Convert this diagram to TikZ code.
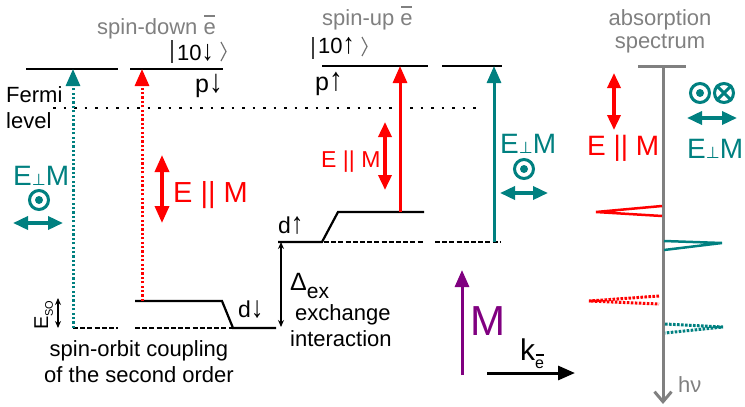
\documentclass[tikz,border=0pt]{standalone}
\usepackage{fontspec}
\setmainfont{Liberation Sans}
\newfontfamily\symf{DejaVu Sans}
\usetikzlibrary{arrows.meta}
\definecolor{tealc}{RGB}{0,128,128}
\definecolor{purp}{RGB}{128,0,128}
\definecolor{gry}{RGB}{128,128,128}
\newcommand\myfs[1]{\fontsize{#1}{#1}\selectfont}
\newcommand\ebar{\rlap{\hspace{0.03em}\raisebox{0.78em}{\rule{0.5em}{0.07em}}}e}
\newcommand\perpm{{\myfs{16}\symf ⊥}}
\newcommand\dnarr{\scalebox{1.1}[1.3]{↓}}
\newcommand\uparr{\scalebox{1.1}[1.3]{↑}}
\begin{document}
\begin{tikzpicture}[x=1pt,y=-1pt,
  lvl/.style={line width=2.2pt},
  dlvl/.style={line width=2.2pt,dash pattern=on 5pt off 2.2pt},
  fermi/.style={line width=2.8pt,dash pattern=on 2.8pt off 7.7pt},
  dotl/.style={line width=3pt,dash pattern=on 2.2pt off 2.2pt},
  uptip/.style={-{Triangle[length=17pt,width=14pt]}},
  both/.style={{Triangle[length=17pt,width=14pt]}-{Triangle[length=17pt,width=14pt]}},
  bothsm/.style={{Triangle[length=15pt,width=13pt]}-{Triangle[length=15pt,width=13pt]}},
  thin2/.style={line width=1.5pt,{Stealth[length=7pt,width=6pt]}-{Stealth[length=7pt,width=6pt]}},
  t/.style={inner sep=0pt,font=\myfs{22}},
  ketl/.style={line width=1.6pt,black!75},
  odot/.style={circle,draw=tealc,line width=3pt,minimum size=19pt,inner sep=0pt},
]
\useasboundingbox (0,0) rectangle (745,407);

% ---- energy levels
\draw[lvl] (26,69) -- (118,69);
\draw[lvl] (130,69) -- (223,69);
\draw[lvl] (322,66) -- (428,66);
\draw[lvl] (442,66) -- (502,66);
\draw[fermi] (53,108) -- (478,108);
\draw[dlvl] (73,328) -- (118,328);
\draw[dlvl] (135,328) -- (233,328);
\draw[lvl] (135,301) -- (222,301) -- (233,328) -- (276,328);
\draw[lvl] (278,242) -- (322,242) -- (338,212) -- (424,212);
\draw[dlvl] (324,242) -- (424,242);
\draw[dlvl] (435,242) -- (501,242);

% ---- coordinates for transitions
\coordinate (a1) at (73,328); \coordinate (a1e) at (73,69);
\coordinate (a2) at (142,301); \coordinate (a2e) at (142,69);
\coordinate (a3) at (400,212); \coordinate (a3e) at (400,66);
\coordinate (a4) at (494,242); \coordinate (a4e) at (494,66);
\draw[tealc,dotl,uptip] (a1) -- (a1e);
\draw[red,dotl,uptip] (a2) -- (a2e);
\draw[red,line width=3pt,uptip] (a3) -- (a3e);
\draw[tealc,line width=3pt,uptip] (a4) -- (a4e);

% ---- polarisation arrows
\coordinate (p1a) at (162,155); \coordinate (p1b) at (162,223);
\coordinate (p2a) at (385,122); \coordinate (p2b) at (385,190);
\coordinate (p3a) at (614,73);  \coordinate (p3b) at (614,130);
\draw[red,line width=3.5pt,both] (p1a) -- (p1b);
\draw[red,line width=3.5pt,bothsm] (p2a) -- (p2b);
\draw[red,line width=3.5pt,bothsm] (p3a) -- (p3b);
\coordinate (h1a) at (13,223); \coordinate (h1b) at (63,223);
\coordinate (h2a) at (500,193); \coordinate (h2b) at (548,193);
\coordinate (h3a) at (687,118); \coordinate (h3b) at (737,118);
\draw[tealc,line width=3.5pt,bothsm] (h1a) -- (h1b);
\draw[tealc,line width=3.5pt,bothsm] (h2a) -- (h2b);
\draw[tealc,line width=3.5pt,bothsm] (h3a) -- (h3b);

\node[odot] (o1) at (39,200) {}; \fill[tealc] (o1.center) circle (4);
\node[odot] (o2) at (524,169) {}; \fill[tealc] (o2.center) circle (4);
\node[odot] (o3) at (700,93) {}; \fill[tealc] (o3.center) circle (4);
\node[odot] (o4) at (724,93) {};
\draw[tealc,line width=3pt] (o4.45) -- (o4.225) (o4.135) -- (o4.315);

% ---- gaps
\coordinate (dx1) at (281,242); \coordinate (dx2) at (281,327);
\draw[thin2] (dx1) -- (dx2);
\coordinate (so1) at (58,298); \coordinate (so2) at (58,328);
\draw[thin2] (so1) -- (so2);

% ---- M and k
\coordinate (m1) at (462,375); \coordinate (m2) at (462,270);
\draw[purp,line width=3pt,uptip] (m1) -- (m2);
\coordinate (k1) at (487,373); \coordinate (k2) at (575,373);
\draw[line width=3pt,uptip] (k1) -- (k2);

% ---- spectrum
\coordinate (ax1) at (663,66); \coordinate (ax2) at (663,404);
\draw[gry,line width=3pt,-{Straight Barb[length=10pt,width=17pt,line width=3pt]}] (ax1) -- (ax2);
\draw[gry,line width=3pt] (638,66) -- (686,66);
\draw[red,line width=2.5pt,line join=miter] (662,206) -- (596,212) -- (662,216);
\draw[tealc,line width=2.5pt,line join=miter] (664,241) -- (722,243) -- (664,250);
\draw[red,line width=3pt,dash pattern=on 2.6pt off 1.4pt] (659,296) -- (589,301) -- (659,304);
\draw[tealc,line width=3pt,dash pattern=on 2.6pt off 1.4pt] (665,324) -- (723,327) -- (665,333);

% ---- kets
\draw[ketl] (172,40) -- (172,63);
\draw[ketl,black!55,line width=1.2pt] (221,42) -- (226,51.5) -- (221,61);
\draw[ketl] (313,37) -- (313,59);
\draw[ketl,black!55,line width=1.2pt] (362,37) -- (367,46.5) -- (362,56);

% ---- texts
\node[t,gry,anchor=base west] (sd) at (97,34) {spin-down \ebar};
\node[t,anchor=base west] (k1t) at (177,60) {10\dnarr};
\node[t,font=\myfs{25},anchor=base east] (pd) at (223,92) {p\dnarr};
\node[t,anchor=base west] (fe) at (6,102) {Fermi};
\node[t,anchor=base west] (le) at (6,128) {level};
\node[t,gry,anchor=base west] (su) at (322,25) {spin-up \ebar};
\node[t,anchor=base west] (k2t) at (318,53) {10\uparr};
\node[t,font=\myfs{25},anchor=base west] (pu) at (315,90) {p\uparr};
\node[t,tealc,font=\myfs{28},anchor=base west] (ep1) at (13,185) {E\perpm M};
\node[t,red,font=\myfs{29},anchor=base west] (ep2) at (173,202) {E || M};
\node[t,font=\myfs{23},anchor=base west] (dd) at (238,317) {d\dnarr};
\node[t,font=\myfs{20},rotate=90,anchor=base west] (eso) at (48,330) {E\raisebox{-5pt}{\myfs{11}SO}};
\node[t,anchor=base] (soc1) at (139,356) {spin-orbit coupling};
\node[t,anchor=base] (soc2) at (139,382) {of the second order};
\node[t,anchor=base west] (dex) at (290,290) {{\myfs{25}Δ}\raisebox{-8pt}{\myfs{21}ex}};
\node[t,anchor=base west] (exc) at (295,320) {exchange};
\node[t,anchor=base west] (int) at (290,346) {interaction};
\node[t,font=\myfs{23},anchor=base west] (du) at (278,233) {d\uparr};
\node[t,red,font=\myfs{23},anchor=base west] (ep3) at (321,167) {E || M};
\node[t,tealc,font=\myfs{28},anchor=base west] (ep4) at (500,153) {E\perpm M};
\node[t,purp,font=\myfs{42},anchor=base west] (mt) at (470,335) {M};
\node[t,font=\myfs{30},anchor=base west] (kt) at (520,360) {k\raisebox{-8pt}{\myfs{16}\ebar}};
\node[t,gry,anchor=base] (abs1) at (660,25) {absorption};
\node[t,gry,anchor=base] (abs2) at (660,48) {spectrum};
\node[t,red,font=\myfs{28},anchor=base west] (ep5) at (587,155) {E || M};
\node[t,tealc,font=\myfs{28},anchor=base west] (ep6) at (687,158) {E\perpm M};
\node[t,gry,anchor=base west] (hn) at (678,392) {hν};
\end{tikzpicture}
\end{document}
